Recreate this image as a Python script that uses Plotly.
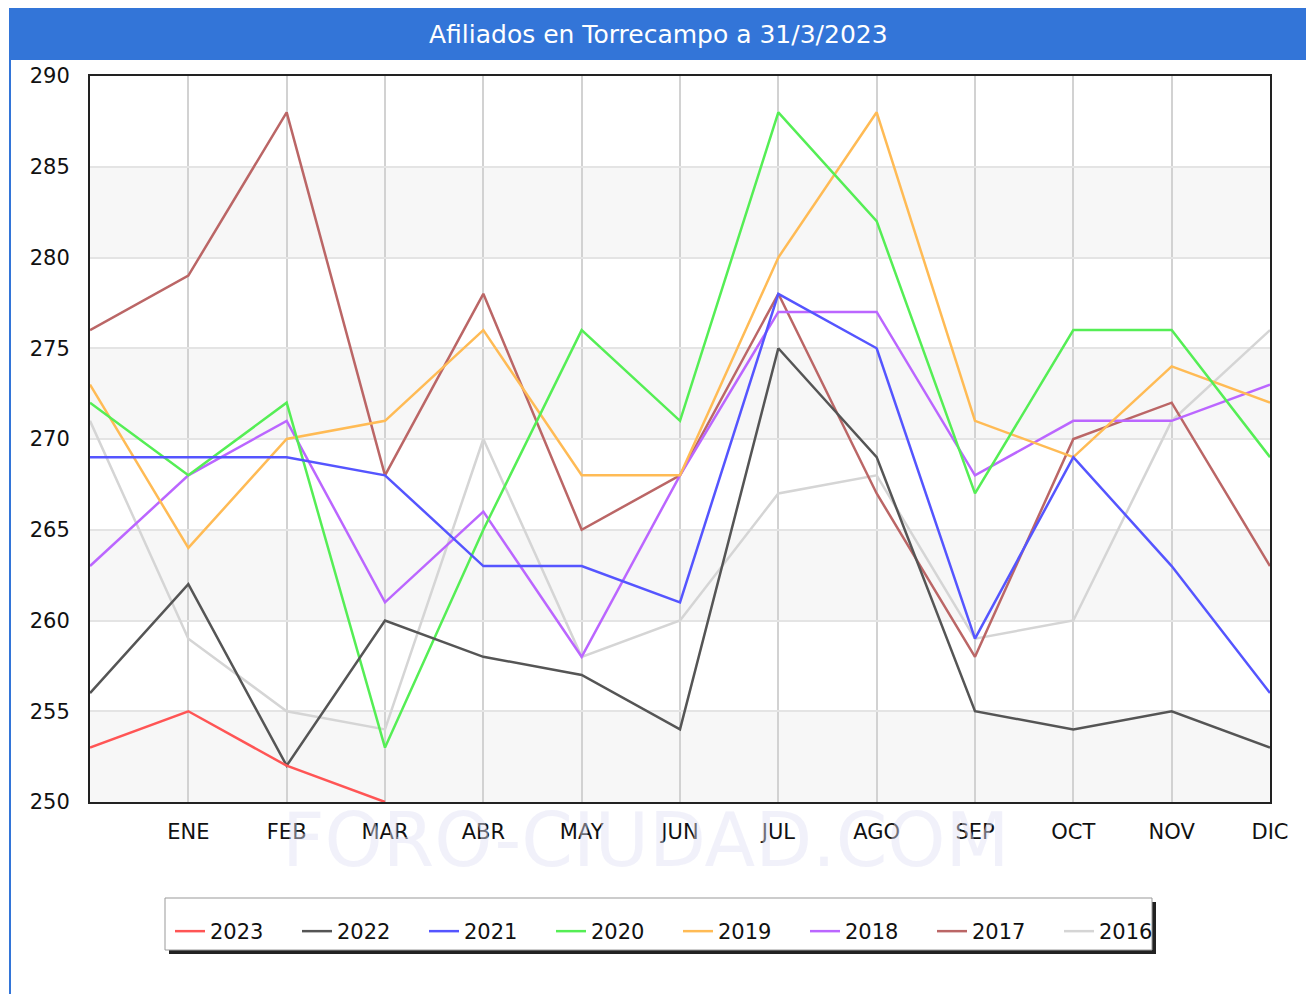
import plotly.graph_objects as go

# x positions: previous December (unlabelled) then ENE..DIC
months = ['', 'ENE', 'FEB', 'MAR', 'ABR', 'MAY', 'JUN', 'JUL', 'AGO', 'SEP', 'OCT', 'NOV', 'DIC']

y2023 = [253, 255, 252, 250]
y2022 = [256, 262, 252, 260, 258, 257, 254, 275, 269, 255, 254, 255, 253]
y2021 = [269, 269, 269, 268, 263, 263, 261, 278, 275, 259, 269, 263, 256]
y2020 = [272, 268, 272, 253, 265, 276, 271, 288, 282, 267, 276, 276, 269]
y2019 = [273, 264, 270, 271, 276, 268, 268, 280, 288, 271, 269, 274, 272]
y2018 = [263, 268, 271, 261, 266, 258, 268, 277, 277, 268, 271, 271, 273]
y2017 = [276, 279, 288, 268, 278, 265, 268, 278, 267, 258, 270, 272, 263]
y2016 = [271, 259, 255, 254, 270, 258, 260, 267, 268, 259, 260, 271, 276]

series = [
    ('2023', y2023, '#FF5555'),
    ('2022', y2022, '#555555'),
    ('2021', y2021, '#5555FF'),
    ('2020', y2020, '#55EE55'),
    ('2019', y2019, '#FFBB55'),
    ('2018', y2018, '#BB66FF'),
    ('2017', y2017, '#BB6666'),
    ('2016', y2016, '#D5D5D5'),
]

FONT = 'DejaVu Sans'

# page body has an 8px margin, figure is drawn at (8, 8)
OFF = 8
W, H = 1314 - OFF, 994 - OFF
# plot area in window pixels
L, R, T, B = 90, 1270, 76, 802


def px(x):
    return (x - L) / (R - L)


def py(y):
    return (B - y) / (B - T)


fig = go.Figure()

# draw older years first so 2023 sits on top, legend keeps reference order
for name, vals, color in reversed(series):
    fig.add_trace(go.Scatter(
        x=list(range(len(vals))),
        y=vals,
        mode='lines',
        name=name,
        line=dict(color=color, width=2.5),
    ))

shapes = []
# alternating horizontal bands
for lo in [250, 260, 270, 280]:
    shapes.append(dict(type='rect', xref='paper', yref='y', x0=0, x1=1, y0=lo, y1=lo + 5,
                       fillcolor='#F7F7F7', line=dict(width=0), layer='below'))
# outer frame and title bar
shapes.append(dict(type='rect', xref='paper', yref='paper',
                   x0=px(10), x1=px(1308), y0=py(1005), y1=py(8),
                   line=dict(color='#3375D8', width=2), fillcolor='rgba(0,0,0,0)'))
shapes.append(dict(type='rect', xref='paper', yref='paper',
                   x0=px(10), x1=px(1308), y0=py(60), y1=py(8),
                   line=dict(color='#3375D8', width=0), fillcolor='#3375D8'))
# legend box with shadow
shapes.append(dict(type='rect', xref='paper', yref='paper',
                   x0=px(169), x1=px(1156), y0=py(954), y1=py(902),
                   line=dict(width=0), fillcolor='#222222', layer='below'))
shapes.append(dict(type='rect', xref='paper', yref='paper',
                   x0=px(165), x1=px(1152), y0=py(950), y1=py(898),
                   line=dict(color='#999999', width=1), fillcolor='white', layer='below'))

fig.update_layout(
    width=W, height=H,
    margin=dict(l=L - OFF, r=W - (R - OFF), t=T - OFF, b=H - (B - OFF)),
    paper_bgcolor='white',
    plot_bgcolor='rgba(0,0,0,0)',
    font=dict(family=FONT, size=21, color='#111111'),
    shapes=shapes,
    showlegend=True,
    legend=dict(
        orientation='h', traceorder='reversed',
        x=px(170), xanchor='left', y=py(911), yanchor='top',
        bgcolor='rgba(0,0,0,0)', borderwidth=0,
        font=dict(family=FONT, size=21, color='#111111'),
        itemwidth=30, entrywidth=82, entrywidthmode='pixels',
    ),
    annotations=[
        dict(text='Afiliados en Torrecampo a 31/3/2023', xref='paper', yref='paper',
             x=px(658), y=py(35), xanchor='center', yanchor='middle', showarrow=False,
             font=dict(family=FONT, size=25, color='white')),
        dict(text='FORO-CIUDAD.COM', xref='paper', yref='paper',
             x=px(645), y=py(840), xanchor='center', yanchor='middle', showarrow=False,
             font=dict(family=FONT, size=74, color='rgba(225,225,245,0.45)')),
    ],
)

fig.update_xaxes(
    range=[0, 12], tickvals=list(range(13)), ticktext=months,
    showgrid=True, gridcolor='#D2D2D2', gridwidth=1.5,
    showline=True, linecolor='#222222', linewidth=2, mirror=True,
    ticks='', zeroline=False, ticklabelstandoff=10,
    tickfont=dict(family=FONT, size=21, color='#111111'),
)
fig.update_yaxes(
    range=[250, 290], dtick=5,
    showgrid=True, gridcolor='#E4E4E4', gridwidth=1.5,
    showline=True, linecolor='#222222', linewidth=2, mirror=True,
    ticks='', zeroline=False, ticklabelstandoff=14,
    tickfont=dict(family=FONT, size=21, color='#111111'),
)

fig.write_html('out.html')
